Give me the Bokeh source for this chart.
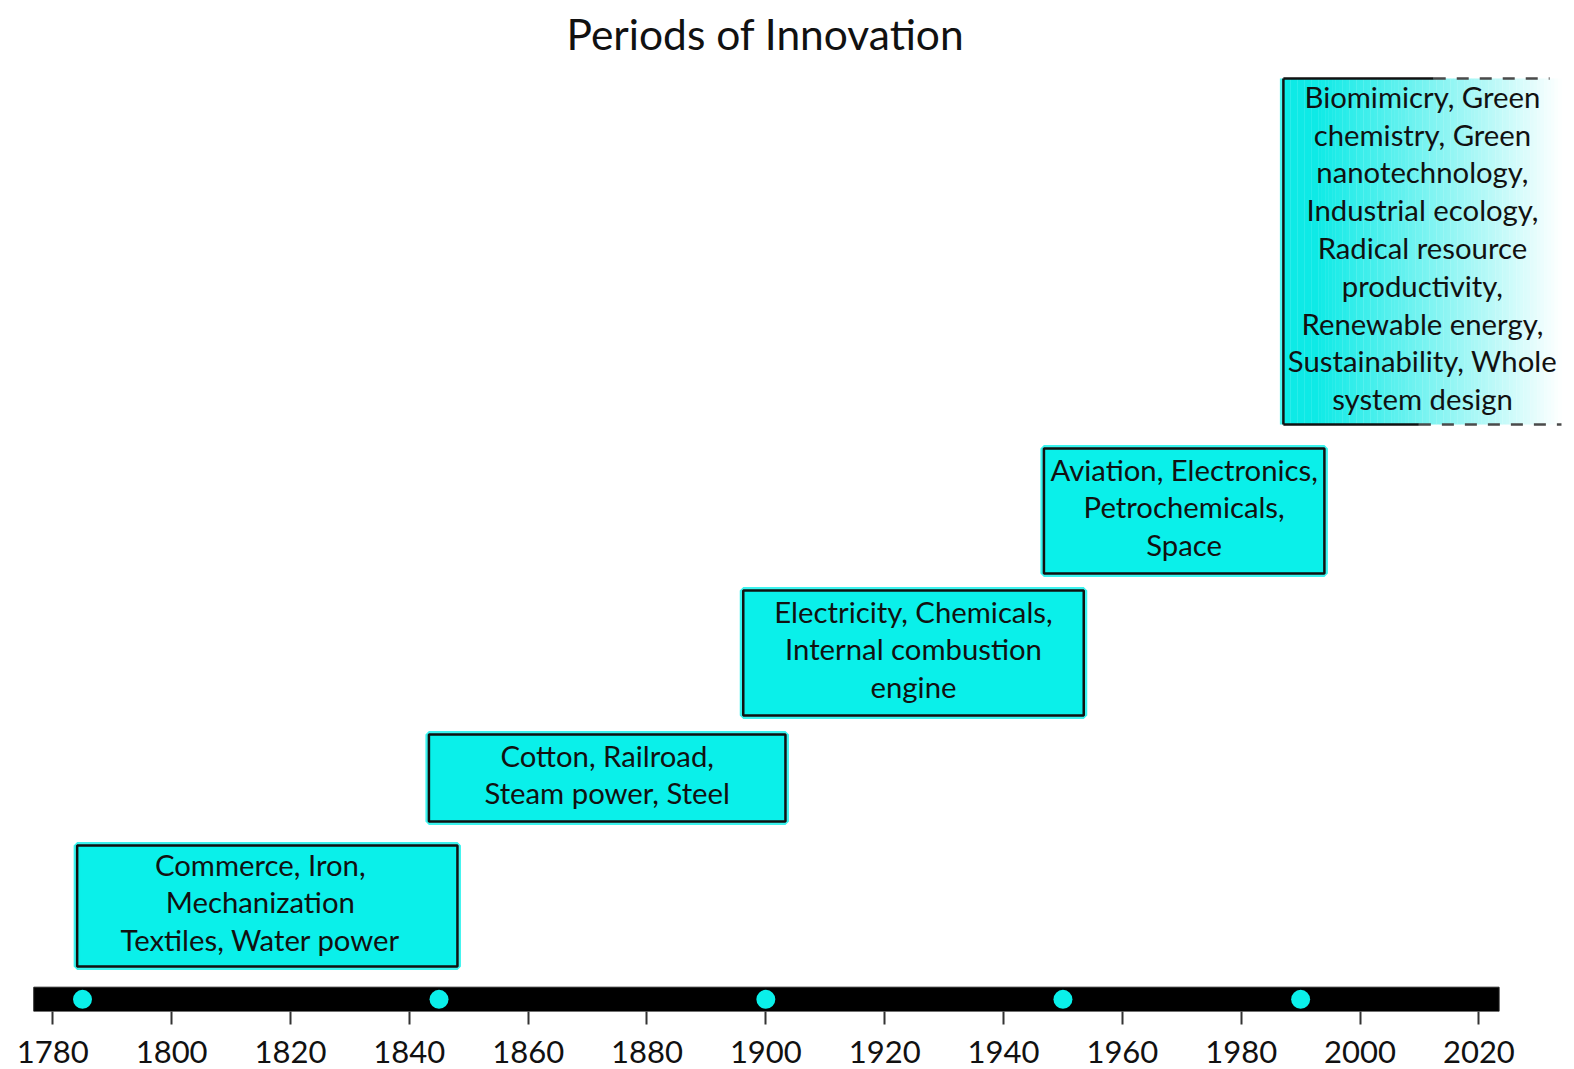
from bokeh.plotting import figure
from bokeh.models import Range1d, FixedTicker, ColumnDataSource
from bokeh.core.properties import value
from bokeh.embed import file_html
from bokeh.resources import INLINE
import numpy as np

# ---------------- data ----------------
title_text = "Periods of Innovation"
tick_years = [1780, 1800, 1820, 1840, 1860, 1880, 1900, 1920, 1940, 1960, 1980, 2000, 2020]

period_labels = [
    "Commerce, Iron,\nMechanization\nTextiles, Water power",
    "Cotton, Railroad,\nSteam power, Steel",
    "Electricity, Chemicals,\nInternal combustion\nengine",
    "Aviation, Electronics,\nPetrochemicals,\nSpace",
    "Biomimicry, Green\nchemistry, Green\nnanotechnology,\nIndustrial ecology,\nRadical resource\nproductivity,\nRenewable energy,\nSustainability, Whole\nsystem design",
]
period_start = [1784.1, 1843.3, 1896.2, 1946.8, 1987.1]
period_end = [1848.1, 1903.3, 1953.5, 1994.0, 2033.9]
tier_low = [45, 190, 296, 438, 587]
tier_high = [166, 277, 421, 563, 933]

milestone_years = [1785, 1845, 1900, 1950, 1990]
timeline_start = 1776.8
timeline_end = 2023.4
timeline_thickness = 24.3

# open-ended last period: solid border part ends here, dashed beyond
open_top_solid_end = 2012.4
open_bottom_solid_end = 2009.9
open_top_dash_end = 2031.9
open_bottom_dash_end = 2033.9

# ---------------- style ----------------
CYAN = "#0AF0EA"
FONT = "Lato"
FRAME_H = 948
label_shift = [-7, 0, 0, 0, 0]   # horizontal nudge of each box's text, px

p = figure(
    frame_width=1574, frame_height=FRAME_H,
    x_range=Range1d(1771.2, 2036.09), y_range=Range1d(0, FRAME_H),
    y_axis_location=None, toolbar_location=None, output_backend="svg",
    min_border_left=0, min_border_right=0, min_border_top=62, min_border_bottom=59,
)
p.outline_line_color = None
p.grid.visible = False
p.background_fill_color = "white"
p.border_fill_color = "white"

p.title.text = title_text
p.title.align = "left"
p.title.offset = 566
p.title.text_font = FONT
p.title.text_font_style = "normal"
p.title.text_font_size = "42.5px"
p.title.text_color = "#111111"

ax = p.xaxis[0]
ax.ticker = FixedTicker(ticks=tick_years)
ax.axis_line_color = None
ax.major_tick_in = 0
ax.major_tick_out = 13
ax.major_tick_line_width = 2
ax.major_tick_line_color = "#333333"
ax.minor_tick_line_color = None
ax.major_label_standoff = 16
ax.major_label_text_font = FONT
ax.major_label_text_font_size = "31px"
ax.major_label_text_color = "#111111"

# closed periods (first four)
n_closed = 4
closed = ColumnDataSource(dict(
    left=period_start[:n_closed], right=period_end[:n_closed],
    bottom=tier_low[:n_closed], top=tier_high[:n_closed],
))
p.quad(left="left", right="right", bottom="bottom", top="top", source=closed,
       fill_color=CYAN, line_color=CYAN, line_width=7, line_alpha=0.8)
p.quad(left="left", right="right", bottom="bottom", top="top", source=closed,
       fill_color=None, line_color="#111111", line_width=2.5)

# open-ended last period with gradient fill to white
s5, e5, b5, t5 = period_start[4], period_end[4], tier_low[4], tier_high[4]
n_strips = 80
edges = np.linspace(s5, e5, n_strips + 1)
c0 = np.array([14, 234, 230])
c1 = np.array([255, 255, 255])
cols = []
for i in range(n_strips):
    t = (i + 0.5) / n_strips
    t = max(0.0, (t - 0.12) / 0.88)
    c = c0 + (c1 - c0) * t
    cols.append("#%02x%02x%02x" % tuple(int(round(v)) for v in c))
p.quad(left=edges[:-1], right=edges[1:] + 0.05, bottom=b5, top=t5,
       fill_color=cols, line_color=None)
# glow + solid borders on the left part
p.segment(x0=[s5], y0=[b5], x1=[s5], y1=[t5], line_color=CYAN, line_width=7, line_alpha=0.7)
p.segment(x0=[s5, s5, s5], y0=[b5, t5, b5], x1=[s5, open_top_solid_end, open_bottom_solid_end],
          y1=[t5, t5, b5], line_color="#111111", line_width=2.5)
# dashed continuation
p.segment(x0=[open_top_solid_end, open_bottom_solid_end], y0=[t5, b5],
          x1=[open_top_dash_end, open_bottom_dash_end], y1=[t5, b5],
          line_color="#4a4a4a", line_width=2.5, line_dash="12 11")

# labels
centers_x = [(a + b) / 2 for a, b in zip(period_start, period_end)]
centers_y = [(a + b) / 2 for a, b in zip(tier_low, tier_high)]
labels_src = ColumnDataSource(dict(x=centers_x, y=centers_y, text=period_labels, dx=label_shift))
p.text(x="x", y="y", text="text", x_offset="dx", y_offset=-4, source=labels_src,
       text_align="center", text_baseline="middle", text_font=value(FONT),
       text_font_size="29.3px", text_line_height=1.079, text_color="#111111")

# timeline bar and milestones
p.quad(left=[timeline_start], right=[timeline_end], bottom=[0], top=[timeline_thickness],
       fill_color="black", line_color="#222222", line_width=1)
p.scatter(x=milestone_years, y=[timeline_thickness / 2] * len(milestone_years),
          size=19, fill_color=CYAN, line_color=None)

open("out.html", "w").write(file_html(p, INLINE))
